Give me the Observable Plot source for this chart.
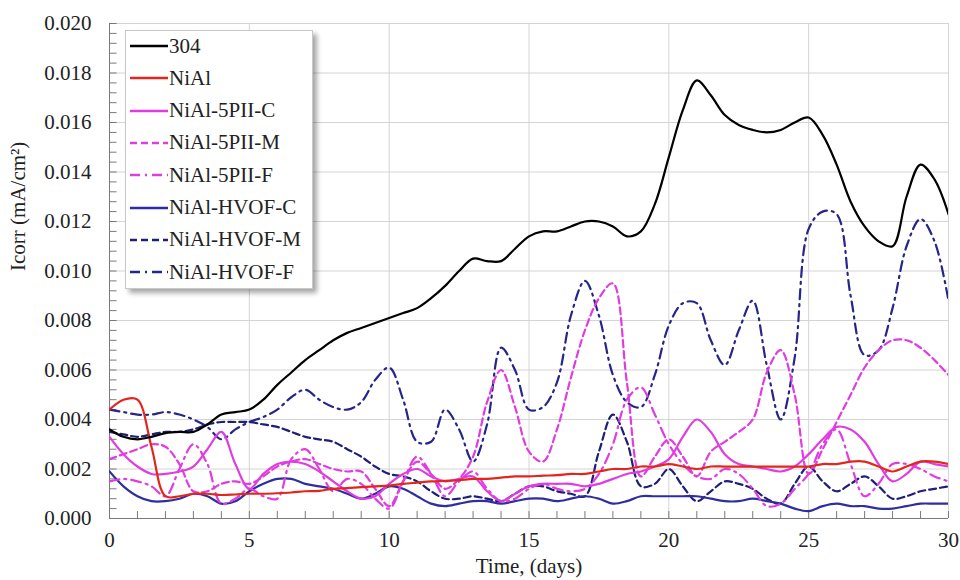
<!DOCTYPE html>
<html>
<head>
<meta charset="utf-8">
<script src="https://cdn.jsdelivr.net/npm/d3@7"></script>
<script src="https://cdn.jsdelivr.net/npm/@observablehq/plot@0.6"></script>
<style>
  body { margin: 0; background: #fff; }
  #wrap { position: relative; width: 960px; height: 580px; font-family: "Liberation Serif", "Times New Roman", serif; }
  #wrap svg text { font-family: "Liberation Serif", "Times New Roman", serif; }
  #legend { position: absolute; left: 125px; top: 30px; width: 186px; height: 257px; background: #fff;
            border: 1px solid #c8c8c8; box-shadow: 4px 4px 5px rgba(0,0,0,0.35); }
  .row { position: absolute; left: 0; height: 24px; display: flex; align-items: center; font-size: 21px; color: #222; white-space: nowrap; }
  .row svg { margin-left: 4px; margin-right: 1px; }
</style>
</head>
<body>
<div id="wrap"><div id="legend"></div></div>
<script>
const days = [0,0.5,1,1.5,2,2.5,3,3.5,4,4.5,5,5.5,6,6.5,7,7.5,8,8.5,9,9.5,10,10.5,11,11.5,12,12.5,13,13.5,14,14.5,15,15.5,16,16.5,17,17.5,18,18.5,19,19.5,20,20.5,21,21.5,22,22.5,23,23.5,24,24.5,25,25.5,26,26.5,27,27.5,28,28.5,29,29.5,30];

const s304 = [0.0036,0.0033,0.0032,0.0033,0.00345,0.0035,0.0035,0.0038,0.0042,0.0043,0.0044,0.0048,0.0054,0.0059,0.0064,0.0068,0.0072,0.0075,0.0077,0.0079,0.0081,0.0083,0.0085,0.0089,0.0094,0.0100,0.0105,0.0104,0.0104,0.0109,0.0114,0.0116,0.0116,0.0118,0.0120,0.0120,0.0118,0.0114,0.0116,0.0127,0.0146,0.0165,0.0177,0.0171,0.0163,0.0159,0.0157,0.0156,0.0157,0.0160,0.0162,0.0155,0.0143,0.0128,0.0118,0.0112,0.0110,0.0130,0.0143,0.0137,0.0123];
const sNiAl = [0.0044,0.0048,0.0048,0.0029,0.0009,0.0009,0.0010,0.0010,0.00095,0.00097,0.0010,0.0010,0.00102,0.00105,0.0011,0.00112,0.0012,0.00123,0.00127,0.0013,0.00133,0.0014,0.00145,0.0015,0.00152,0.00155,0.0016,0.0016,0.00165,0.0017,0.0017,0.00173,0.00175,0.0018,0.0018,0.0019,0.0020,0.0020,0.0021,0.0021,0.0022,0.0021,0.0020,0.0021,0.0021,0.0021,0.0021,0.0021,0.0021,0.0021,0.0021,0.0022,0.0022,0.0023,0.0023,0.0021,0.0019,0.0021,0.0023,0.0023,0.0022];
const s5PIIC = [0.0033,0.0026,0.0021,0.0018,0.0018,0.0019,0.0021,0.0028,0.0035,0.0022,0.0012,0.0018,0.0022,0.0023,0.0022,0.0019,0.0015,0.0011,0.0008,0.0009,0.0014,0.0018,0.0020,0.0017,0.0015,0.0016,0.0017,0.0011,0.0007,0.0010,0.0013,0.0014,0.0014,0.0014,0.0013,0.0014,0.0016,0.0018,0.0019,0.0021,0.0024,0.0033,0.0040,0.0035,0.0026,0.0022,0.0021,0.0020,0.0019,0.0021,0.0026,0.0032,0.0037,0.0036,0.0031,0.0022,0.0015,0.0018,0.0023,0.0022,0.0021];
const s5PIIM = [0.0024,0.0026,0.0028,0.0030,0.0029,0.0022,0.0011,0.0011,0.0014,0.0015,0.0014,0.0017,0.0021,0.0023,0.0024,0.0022,0.0020,0.0019,0.0019,0.0012,0.0005,0.0015,0.0023,0.0018,0.0012,0.0016,0.0025,0.0047,0.0060,0.0045,0.0027,0.0023,0.0036,0.0057,0.0076,0.0089,0.0095,0.0055,0.0017,0.0025,0.0032,0.0025,0.0017,0.0027,0.0031,0.0035,0.0040,0.0059,0.0068,0.0050,0.0018,0.0028,0.0039,0.0050,0.0061,0.0068,0.0072,0.0072,0.0069,0.0064,0.0058];
const s5PIIF = [0.0015,0.0016,0.0015,0.0013,0.0009,0.0020,0.0030,0.0022,0.0006,0.0008,0.0012,0.0009,0.0008,0.0024,0.0028,0.0020,0.0011,0.0016,0.0014,0.0008,0.0004,0.0015,0.0025,0.0018,0.0009,0.0015,0.0019,0.0012,0.0007,0.0008,0.0012,0.0014,0.0012,0.0011,0.0012,0.0018,0.0030,0.0048,0.0053,0.0042,0.0030,0.0022,0.0017,0.0016,0.0020,0.0018,0.0012,0.0005,0.0006,0.0012,0.0018,0.0030,0.0036,0.0022,0.0009,0.0014,0.0022,0.0022,0.0020,0.0017,0.0015];
const sHVOFC = [0.0019,0.0013,0.0009,0.0007,0.0007,0.0008,0.0010,0.0009,0.0006,0.0007,0.0011,0.0014,0.0016,0.0016,0.0014,0.0013,0.0012,0.0010,0.0008,0.0010,0.0013,0.0012,0.0009,0.0006,0.0005,0.0006,0.0007,0.0007,0.0006,0.0007,0.0008,0.0008,0.0007,0.0008,0.0009,0.0008,0.0006,0.0007,0.0009,0.0009,0.0009,0.0009,0.0009,0.0008,0.0007,0.0007,0.0008,0.0007,0.0006,0.0004,0.0003,0.0005,0.0006,0.0005,0.0005,0.0004,0.0004,0.0005,0.0006,0.0006,0.0006];
const sHVOFM = [0.0035,0.0034,0.0033,0.0034,0.0035,0.0035,0.0036,0.0038,0.0039,0.0039,0.0039,0.0038,0.0037,0.0035,0.0033,0.0032,0.0031,0.0028,0.0025,0.0021,0.0018,0.0017,0.0015,0.0011,0.0008,0.0008,0.0009,0.0008,0.0007,0.0010,0.0013,0.0013,0.0011,0.0010,0.0009,0.0027,0.0042,0.0031,0.0013,0.0014,0.0020,0.0013,0.0007,0.0011,0.0015,0.0014,0.0012,0.0008,0.0006,0.0014,0.0021,0.0015,0.0011,0.0014,0.0017,0.0013,0.0008,0.0009,0.0011,0.0012,0.0013];
const sHVOFF = [0.0044,0.0043,0.0042,0.0042,0.0043,0.0042,0.0040,0.0037,0.0032,0.0036,0.0039,0.0041,0.0044,0.0049,0.0052,0.0048,0.0045,0.0044,0.0047,0.0056,0.0061,0.0048,0.0031,0.0031,0.0044,0.0036,0.0023,0.0038,0.0069,0.0060,0.0044,0.0045,0.0055,0.0082,0.0096,0.0082,0.0058,0.0047,0.0045,0.0058,0.0078,0.0087,0.0087,0.0072,0.0062,0.0076,0.0088,0.0062,0.0040,0.0065,0.0117,0.0124,0.0123,0.0090,0.0066,0.0068,0.0085,0.0110,0.0121,0.0112,0.0088];

const seriesNames = ["304","NiAl","NiAl-5PII-C","NiAl-5PII-M","NiAl-5PII-F","NiAl-HVOF-C","NiAl-HVOF-M","NiAl-HVOF-F"];
const seriesValues = [s304, sNiAl, s5PIIC, s5PIIM, s5PIIF, sHVOFC, sHVOFM, sHVOFF];
const seriesColors = ["#000000","#e3261c","#e03ce0","#e03ce0","#e03ce0","#2e2e9e","#1f1f78","#25258a"];
const dashes = [null,null,null,"7,4","10,5,2,5",null,"7,4","10,5,2,5"];

const yMajor = [0,0.002,0.004,0.006,0.008,0.010,0.012,0.014,0.016,0.018,0.020];
const xMajor = [0,5,10,15,20,25,30];
const yMinor = d3.range(0, 0.02001, 0.0004);
const xMinor = d3.range(0, 30.01, 1);
const yTitle = "Icorr (mA/cm²)";
const xTitle = "Time, (days)";

const lineMarks = seriesNames.map((name, i) => {
  const rows = days.map((d, j) => ({day: d, value: seriesValues[i][j], series: name}));
  return Plot.line(rows, {
    x: "day", y: "value",
    stroke: seriesColors[i],
    strokeWidth: 2.2,
    strokeDasharray: dashes[i],
    curve: "catmull-rom",
    clip: true
  });
});

const serif = "'Liberation Serif', 'Times New Roman', serif";
const chart = Plot.plot({
  width: 960,
  height: 580,
  marginLeft: 109,
  marginRight: 12,
  marginTop: 23,
  marginBottom: 62,
  style: {fontFamily: serif, fontSize: "21px", color: "#222", background: "#fff"},
  x: {domain: [0, 30]},
  y: {domain: [0, 0.02]},
  marks: [
    Plot.gridY(yMajor, {stroke: "#d4d4d4", strokeOpacity: 1}),
    Plot.gridX(xMajor, {stroke: "#d4d4d4", strokeOpacity: 1}),
    Plot.ruleY(yMinor, {x1: 0, x2: 0.27, stroke: "#7a7a7a"}),
    Plot.ruleX(xMinor, {y1: 0, y2: 0.00028, stroke: "#7a7a7a"}),
    Plot.ruleX([0], {stroke: "#7a7a7a"}),
    Plot.ruleY([0], {stroke: "#7a7a7a"}),
    ...lineMarks.slice().reverse(),
    Plot.axisY(yMajor, {tickSize: 0, tickPadding: 18, tickFormat: d3.format(".3f"),
      label: null, fontSize: 21, fontFamily: serif, fontVariant: "normal"}),
    Plot.axisX(xMajor, {tickSize: 0, tickPadding: 14, tickFormat: d3.format("d"),
      label: null, fontSize: 21, fontFamily: serif, fontVariant: "normal"}),
    Plot.text([yTitle], {frameAnchor: "left", rotate: -90, dx: -91, fontSize: 21, fontFamily: serif, fill: "#222"}),
    Plot.text([xTitle], {frameAnchor: "bottom", lineAnchor: "middle", dy: 48, fontSize: 21, fontFamily: serif, fill: "#222"})
  ]
});
document.getElementById("wrap").prepend(chart);

// Legend
const legend = document.getElementById("legend");
seriesNames.forEach((name, i) => {
  const row = document.createElement("div");
  row.className = "row";
  row.style.top = (3 + i * 32.3) + "px";
  const dashAttr = dashes[i] ? ` stroke-dasharray="${dashes[i]}"` : "";
  row.innerHTML = `<svg width="38" height="10"><line x1="0" y1="5" x2="38" y2="5" stroke="${seriesColors[i]}" stroke-width="2.4"${dashAttr}/></svg><span>${name}</span>`;
  legend.appendChild(row);
});
</script>
</body>
</html>
